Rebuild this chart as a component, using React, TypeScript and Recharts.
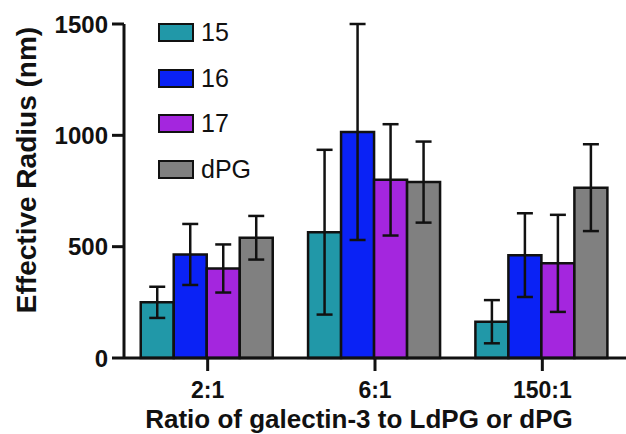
import React from "react";
import { BarChart, Bar, XAxis, YAxis, ErrorBar } from "recharts";

const categories = ["2:1", "6:1", "150:1"];
const series15 = [250, 565, 163];
const err15 = [70, 370, 97];
const series16 = [465, 1015, 462];
const err16 = [137, 485, 188];
const series17 = [402, 800, 425];
const err17 = [108, 250, 218];
const seriesDPG = [540, 790, 765];
const errDPG = [98, 182, 195];
const yTicks = [0, 500, 1000, 1500];

const SERIES = [
  { key: "s15", err: "e15", name: "15", color: "#2198A8" },
  { key: "s16", err: "e16", name: "16", color: "#0A22F5" },
  { key: "s17", err: "e17", name: "17", color: "#A426DE" },
  { key: "sdpg", err: "edpg", name: "dPG", color: "#808080" },
];

const FONT = "'Liberation Sans', Arial, sans-serif";

const data = categories.map((ratio, i) => ({
  ratio,
  s15: series15[i],
  e15: err15[i],
  s16: series16[i],
  e16: err16[i],
  s17: series17[i],
  e17: err17[i],
  sdpg: seriesDPG[i],
  edpg: errDPG[i],
}));

// legend drawn as a vertical list of boxed swatches, laid over the plot
function LegendBox() {
  return (
    <div
      style={{
        position: "absolute",
        left: 158,
        top: 10,
        fontFamily: FONT,
        pointerEvents: "none",
      }}
    >
      {SERIES.map((s) => (
        <div
          key={s.key}
          style={{ display: "flex", alignItems: "center", height: 45.5 }}
        >
          <div
            style={{
              width: 32,
              height: 15,
              background: s.color,
              border: "2px solid #111",
              marginRight: 7,
            }}
          />
          <span style={{ fontSize: 25, color: "#111" }}>{s.name}</span>
        </div>
      ))}
    </div>
  );
}

// axis titles sit a little off the plot centre in the original
const XTitle = () => (
  <text
    x={359}
    y={428}
    textAnchor="middle"
    fill="#111"
    fontSize={26}
    fontWeight={700}
    fontFamily={FONT}
  >
    Ratio of galectin-3 to LdPG or dPG
  </text>
);

const YTitle = () => (
  <text
    x={0}
    y={0}
    transform="translate(36, 170) rotate(-90)"
    textAnchor="middle"
    fill="#111"
    fontSize={28}
    fontWeight={700}
    fontFamily={FONT}
  >
    Effective Radius (nm)
  </text>
);

export default function App() {
  return (
    <div
      style={{
        position: "absolute",
        left: 0,
        top: 0,
        width: 626,
        height: 434,
        background: "#fff",
      }}
    >
      <BarChart
        width={626}
        height={434}
        data={data}
        margin={{ top: 24, right: 0, left: 0, bottom: 0 }}
        barCategoryGap="10%"
        barGap={0}
      >
        <XAxis
          dataKey="ratio"
          axisLine={{ stroke: "#111", strokeWidth: 3 }}
          tickLine={{ stroke: "#111", strokeWidth: 3 }}
          tickSize={13}
          tickMargin={11}
          tick={{ fill: "#111", fontSize: 23, fontWeight: 700, fontFamily: FONT }}
          height={76}
          label={<XTitle />}
        />
        <YAxis
          width={124}
          domain={[0, 1500]}
          ticks={yTicks}
          interval={0}
          axisLine={{ stroke: "#111", strokeWidth: 3 }}
          tickLine={{ stroke: "#111", strokeWidth: 3 }}
          tickSize={12}
          tickMargin={4}
          tick={{ fill: "#111", fontSize: 24, fontWeight: 700, fontFamily: FONT }}
          label={<YTitle />}
        />
        {SERIES.map((s) => (
          <Bar
            key={s.key}
            dataKey={s.key}
            name={s.name}
            fill={s.color}
            stroke="#111"
            strokeWidth={2.5}
            isAnimationActive={false}
          >
            <ErrorBar
              dataKey={s.err}
              width={8}
              stroke="#111"
              strokeWidth={2.5}
              direction="y"
            />
          </Bar>
        ))}
      </BarChart>
      <LegendBox />
    </div>
  );
}
